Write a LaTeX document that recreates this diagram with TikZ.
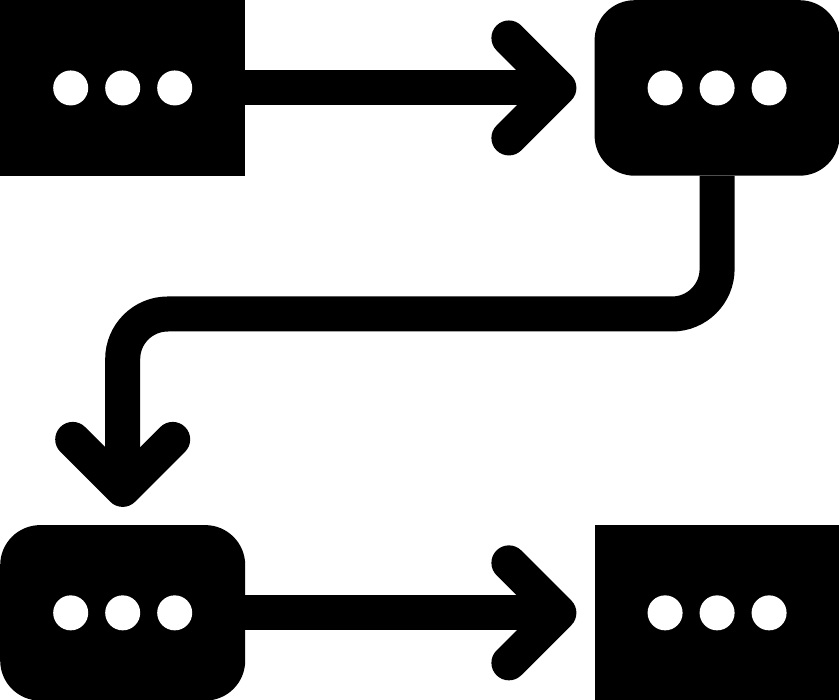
\documentclass[tikz,border=0pt]{standalone}
\usetikzlibrary{arrows.meta,positioning}

\begin{document}
\begin{tikzpicture}[x=1pt,y=-1pt,node distance=349pt,
    box/.style={fill=black,minimum width=245pt,minimum height=175.5pt,inner sep=0pt},
    bubble/.style={box,rounded corners=40pt},
    flow/.style={line width=35pt,shorten >=18pt,rounded corners=45pt,
      -{Straight Barb[length=50pt,width=100pt,line cap=round,line join=round]}}]
  \useasboundingbox (0,0) rectangle (839,700);

  \node[box,anchor=north west] (start) at (0,0) {};
  \node[bubble] (reply) [right=of start] {};
  \node[bubble] (ask) [below=of start] {};
  \node[box] (finish) [right=of ask] {};

  % the three dots in each box
  \foreach \n in {start,reply,ask,finish}
    \foreach \dx in {-52,0,52}
      \fill[white] ([xshift=\dx pt]\n.center) circle (17.5pt);

  \coordinate (level) at (0,314);
  \coordinate (turn) at (ask |- level);

  \draw[flow] (start) -- (reply);
  \draw[flow] (reply) |- (turn) -- (ask);
  \draw[flow] (ask) -- (finish);
\end{tikzpicture}
\end{document}
